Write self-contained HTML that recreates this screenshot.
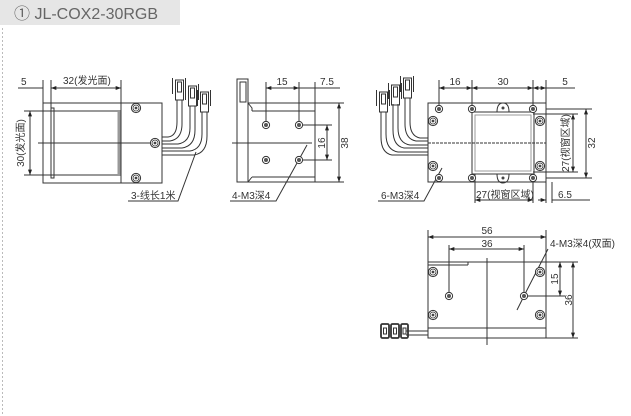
<!DOCTYPE html>
<html><head><meta charset="utf-8"><style>
html,body{margin:0;padding:0;background:#fff;}
svg{display:block;}
text{font-family:"Liberation Sans","Noto Sans CJK SC",sans-serif;fill:#333;}
</style></head><body>
<svg width="631" height="416" viewBox="0 0 631 416" xmlns="http://www.w3.org/2000/svg">
<defs>
<marker id="a" viewBox="0 0 8 6" refX="8" refY="3" markerWidth="6" markerHeight="4" orient="auto-start-reverse"><path d="M0,0L8,3L0,6z" fill="#222"/></marker>
<g id="sh"><circle r="3.6" fill="#fff" stroke="#333" stroke-width="1"/><circle r="2" fill="#555"/></g>
<g id="bs"><circle r="4.6" fill="#fff" stroke="#333" stroke-width="1"/><circle r="3" fill="#fff" stroke="#333" stroke-width="0.8"/><circle r="1.4" fill="#444"/></g>
<g id="plug" fill="none" stroke="#333" stroke-width="1"><rect x="-4" y="0" width="8" height="20"/><line x1="-7" y1="-2" x2="-7" y2="14"/><line x1="6" y1="-2" x2="6" y2="14"/><rect x="-2" y="2" width="4" height="10"/></g>
</defs>
<rect x="0" y="0" width="180" height="25" fill="#e6e6e6"/>
<text x="14" y="19" font-size="16" style="fill:#666">① JL-COX2-30RGB</text>
<line x1="2.5" y1="28" x2="2.5" y2="416" stroke="#bbb" stroke-dasharray="2,2"/>

<g stroke="#333" stroke-width="1" fill="none">
<!-- VIEW 1 -->
<rect x="43" y="103" width="119" height="80"/>
<line x1="121" y1="103" x2="121" y2="183"/>
<line x1="43" y1="111" x2="121" y2="111"/><line x1="43" y1="175" x2="121" y2="175"/>
<rect x="51" y="108" width="3" height="70"/>
<line x1="119" y1="111" x2="119" y2="175" stroke="#999" stroke-width="3"/>
<line x1="38" y1="143" x2="160" y2="143"/>
<line x1="43" y1="80" x2="43" y2="103"/><line x1="51" y1="80" x2="51" y2="108"/><line x1="121" y1="80" x2="121" y2="103"/>
<line x1="18" y1="88" x2="43" y2="88"/>
<line x1="51" y1="88" x2="121" y2="88" marker-start="url(#a)" marker-end="url(#a)"/>
<line x1="24" y1="111" x2="51" y2="111"/><line x1="24" y1="175" x2="51" y2="175"/>
<line x1="30" y1="111" x2="30" y2="175" marker-start="url(#a)" marker-end="url(#a)"/>
<!-- cables view1 -->
<path d="M162,137 L168,137 Q177,136 177,122 L177,100"/>
<path d="M162,141 L170,141 Q182,139 182,124 L182,100"/>
<path d="M162,144 L178,144 Q190,142 190,128 L190,106"/>
<path d="M162,148 L182,148 Q195,146 195,130 L195,106"/>
<path d="M162,151 L190,151 Q202,149 202,134 L202,112"/>
<path d="M162,155 L194,155 Q207,153 207,136 L207,112"/>
<use href="#plug" x="179.5" y="80"/><use href="#plug" x="192.5" y="86"/><use href="#plug" x="204.5" y="92"/>
<path d="M128,201 L178,201 L196,152"/>
<!-- VIEW 2 -->
<rect x="237" y="79" width="11" height="103"/>
<rect x="240" y="82" width="6" height="20"/>
<rect x="248" y="103" width="67" height="79"/>
<line x1="252" y1="111" x2="315" y2="111"/><line x1="252" y1="177" x2="315" y2="177"/>
<path d="M248,103 L252,108 L252,111 M248,182 L252,177"/>
<line x1="232" y1="143" x2="312" y2="143"/>
<line x1="266" y1="82" x2="266" y2="125"/><line x1="299" y1="82" x2="299" y2="125"/><line x1="315" y1="82" x2="315" y2="103"/>
<line x1="266" y1="88" x2="299" y2="88" marker-start="url(#a)" marker-end="url(#a)"/>
<line x1="299" y1="88" x2="340" y2="88"/>
<line x1="315" y1="103" x2="344" y2="103"/><line x1="315" y1="182" x2="344" y2="182"/>
<line x1="339" y1="103" x2="339" y2="182" marker-start="url(#a)" marker-end="url(#a)"/>
<line x1="299" y1="125" x2="332" y2="125"/><line x1="299" y1="160" x2="332" y2="160"/>
<line x1="327" y1="125" x2="327" y2="160" marker-start="url(#a)" marker-end="url(#a)"/>
<path d="M230,201 L276,201 L307,145"/>
<!-- VIEW 3 -->
<rect x="428" y="103" width="118" height="79"/>
<rect x="472" y="112" width="62" height="62"/>
<rect x="475" y="115" width="56" height="56" stroke="#999"/>
<line x1="428" y1="143" x2="546" y2="143" stroke-dasharray="3,1"/>
<path d="M497,112 Q497,103 503,103 Q509,103 509,112"/><path d="M497,174 Q497,183 503,183 Q509,183 509,174"/>
<line x1="439" y1="80" x2="439" y2="108"/><line x1="472" y1="80" x2="472" y2="108"/><line x1="533" y1="80" x2="533" y2="108"/><line x1="546" y1="80" x2="546" y2="103"/>
<line x1="439" y1="88" x2="472" y2="88" marker-start="url(#a)" marker-end="url(#a)"/>
<line x1="472" y1="88" x2="533" y2="88" marker-start="url(#a)" marker-end="url(#a)"/>
<line x1="533" y1="88" x2="546" y2="88" marker-start="url(#a)" marker-end="url(#a)"/>
<line x1="546" y1="88" x2="575" y2="88"/>
<line x1="533" y1="114" x2="578" y2="114"/><line x1="533" y1="172" x2="578" y2="172"/>
<line x1="573" y1="114" x2="573" y2="172" marker-start="url(#a)" marker-end="url(#a)"/>
<line x1="546" y1="109" x2="592" y2="109"/><line x1="546" y1="178" x2="592" y2="178"/>
<line x1="586" y1="109" x2="586" y2="178" marker-start="url(#a)" marker-end="url(#a)"/>
<line x1="475" y1="174" x2="475" y2="203"/><line x1="533" y1="174" x2="533" y2="203"/><line x1="546" y1="182" x2="546" y2="203"/><line x1="552" y1="182" x2="552" y2="203"/>
<line x1="475" y1="200" x2="533" y2="200" marker-start="url(#a)" marker-end="url(#a)"/>
<line x1="538" y1="200" x2="546" y2="200" marker-end="url(#a)"/>
<line x1="552" y1="200" x2="590" y2="200"/>
<path d="M428,138 L420,138 Q410,136 410,122 L410,98"/>
<path d="M428,141 L416,141 Q405,139 405,124 L405,98"/>
<path d="M428,145 L410,145 Q398,143 398,128 L398,104"/>
<path d="M428,148 L404,148 Q393,146 393,130 L393,104"/>
<path d="M428,152 L398,152 Q386,150 386,134 L386,112"/>
<path d="M428,155 L392,155 Q381,153 381,137 L381,112"/>
<use href="#plug" x="407.5" y="78"/><use href="#plug" x="395.5" y="85"/><use href="#plug" x="383.5" y="92"/>
<path d="M378,201 L424,201 L442,168"/>
<!-- VIEW 4 -->
<rect x="428" y="262" width="118" height="76"/>
<line x1="428" y1="265" x2="468" y2="265"/><line x1="468" y1="262" x2="468" y2="265"/>
<line x1="428" y1="328" x2="546" y2="328"/>
<line x1="487" y1="258" x2="487" y2="345"/>
<line x1="428" y1="230" x2="428" y2="262"/><line x1="546" y1="230" x2="546" y2="262"/>
<line x1="428" y1="237" x2="546" y2="237" marker-start="url(#a)" marker-end="url(#a)"/>
<line x1="449" y1="245" x2="449" y2="296"/><line x1="524" y1="245" x2="524" y2="296"/>
<line x1="449" y1="249" x2="524" y2="249" marker-start="url(#a)" marker-end="url(#a)"/>
<line x1="546" y1="262" x2="578" y2="262"/><line x1="546" y1="338" x2="578" y2="338"/>
<line x1="524" y1="296" x2="565" y2="296"/>
<line x1="560" y1="262" x2="560" y2="296" marker-start="url(#a)" marker-end="url(#a)"/>
<line x1="573" y1="262" x2="573" y2="338" marker-start="url(#a)" marker-end="url(#a)"/>
<path d="M548,249 L527,290 L517,310"/>
<line x1="406" y1="331" x2="428" y2="331"/><line x1="406" y1="335" x2="428" y2="335"/>
<rect x="381" y="324" width="8" height="14" rx="1.5" stroke-width="1.8"/><rect x="391" y="324" width="8" height="14" rx="1.5" stroke-width="1.8"/><rect x="401" y="324" width="7" height="14" rx="1.5" stroke-width="1.8"/>
<rect x="383.5" y="328" width="3" height="6"/><rect x="393.5" y="328" width="3" height="6"/><rect x="403" y="328" width="3" height="6"/>
</g>
<!-- holes -->
<use href="#bs" x="136" y="108"/><use href="#bs" x="155" y="143"/><use href="#bs" x="136" y="178"/>
<use href="#sh" x="266" y="125"/><use href="#sh" x="299" y="125"/><use href="#sh" x="266" y="160"/><use href="#sh" x="299" y="160"/>
<use href="#sh" x="439" y="109"/><use href="#sh" x="472" y="109"/><use href="#sh" x="533" y="109"/>
<use href="#sh" x="439" y="178"/><use href="#sh" x="472" y="178"/><use href="#sh" x="533" y="178"/>
<circle cx="503" cy="108" r="1.5" fill="#444"/><circle cx="503" cy="178" r="1.5" fill="#444"/>
<use href="#bs" x="433" y="121"/><use href="#bs" x="433" y="166"/><use href="#bs" x="540" y="121"/><use href="#bs" x="540" y="166"/>
<use href="#bs" x="433" y="272"/><use href="#bs" x="540" y="272"/><use href="#bs" x="433" y="315"/><use href="#bs" x="540" y="315"/>
<use href="#sh" x="449" y="296"/><use href="#sh" x="524" y="296"/>
<!-- text -->
<g font-size="10">
<text x="21" y="85">5</text>
<text x="63" y="84">32(发光面)</text>
<text transform="translate(24,143) rotate(-90)" text-anchor="middle">30(发光面)</text>
<text x="131" y="199">3-线长1米</text>
<text x="282" y="85" text-anchor="middle">15</text>
<text x="320" y="85">7.5</text>
<text transform="translate(325,143) rotate(-90)" text-anchor="middle">16</text>
<text transform="translate(348,143) rotate(-90)" text-anchor="middle">38</text>
<text x="232" y="199">4-M3深4</text>
<text x="455" y="85" text-anchor="middle">16</text>
<text x="503" y="85" text-anchor="middle">30</text>
<text x="565" y="85" text-anchor="middle">5</text>
<text transform="translate(569,143) rotate(-90)" text-anchor="middle">27(视窗区域)</text>
<text transform="translate(595,143) rotate(-90)" text-anchor="middle">32</text>
<text x="476" y="198">27(视窗区域)</text>
<text x="558" y="198">6.5</text>
<text x="381" y="199">6-M3深4</text>
<text x="487" y="234" text-anchor="middle">56</text>
<text x="487" y="247" text-anchor="middle">36</text>
<text x="550" y="247">4-M3深4(双面)</text>
<text transform="translate(558,279) rotate(-90)" text-anchor="middle">15</text>
<text transform="translate(572,300) rotate(-90)" text-anchor="middle">36</text>
</g>
</svg>
</body></html>
